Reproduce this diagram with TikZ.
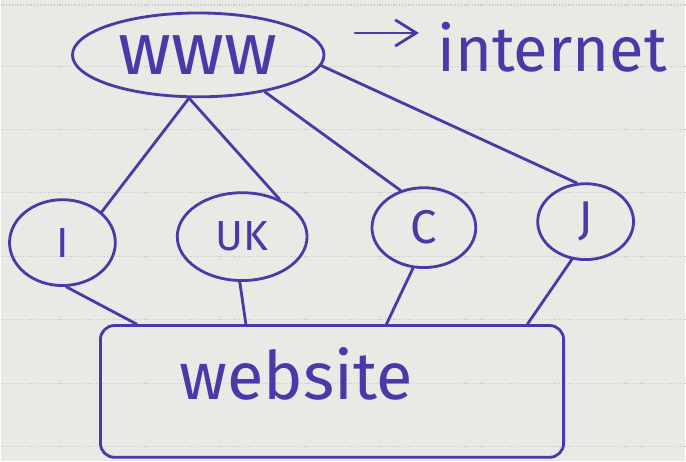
\documentclass[tikz,border=0pt]{standalone}
\usepackage{fontspec}
\setmainfont{Fira Sans}
\usetikzlibrary{shapes.geometric,arrows.meta}
\definecolor{ink}{RGB}{76,56,168}
\definecolor{paper}{RGB}{233,233,229}

\begin{document}
\begin{tikzpicture}[x=0.02cm,y=-0.02cm,
    pen/.style={color=ink,line width=1.6pt,line cap=round},
    bubble/.style={pen,draw,ellipse,inner sep=0pt,font=\fontsize{24}{28}\selectfont},
    word/.style={color=ink,inner sep=0pt}]
  % paper and ruling
  \fill[paper] (0,0) rectangle (686,462);
  \foreach \y in {5,67,130,193,257,320,384,447}
    \draw[gray!45,densely dotted,line width=0.6pt] (0,\y) -- (686,\y);
  % top: www -> internet
  \node[bubble,minimum width=5.04cm,minimum height=1.68cm,font=\fontsize{42}{48}\selectfont] (www) at (198,55) {www};
  \node[word,anchor=base west,inner xsep=0.36cm,font=\fontsize{36}{42}\selectfont] (internet) at (419,72) {internet};
  \coordinate (arrowtail) at (355,33);
  \draw[pen,-{Straight Barb[length=12pt,width=15pt]}] (arrowtail) -- (arrowtail -| internet.west);
  % countries
  \node[bubble,minimum width=2.12cm,minimum height=1.72cm] (india) at (62,243) {I};
  \node[bubble,minimum width=2.6cm,minimum height=1.76cm] (uk) at (242,237) {UK};
  \node[bubble,minimum width=2.08cm,minimum height=1.6cm,font=\fontsize{27}{30}\selectfont] (china) at (424,228) {C};
  \node[bubble,minimum width=1.92cm,minimum height=1.52cm,font=\fontsize{27}{30}\selectfont] (japan) at (586,222) {J};
  % website box
  \node[pen,draw,rounded corners=8pt,minimum width=9.28cm,minimum height=2.64cm] (website) at (332,392) {};
  \node[word,anchor=base,font=\fontsize{38}{44}\selectfont] (websitetext) at (296,400) {website};
  % www to countries
  \draw[pen] (www.258) -- (india.38);
  \draw[pen] (www.258) -- (uk.45);
  \draw[pen] (www.331) -- (china.122);
  \draw[pen] (www.355) -- (japan.103);
  % countries to website
  \draw[pen] (india.275) -- (website.161);
  \draw[pen] (uk.267) -- (website.142);
  \draw[pen] (china.255) -- (website.51);
  \draw[pen] (japan.250) -- (website.19);
\end{tikzpicture}
\end{document}
